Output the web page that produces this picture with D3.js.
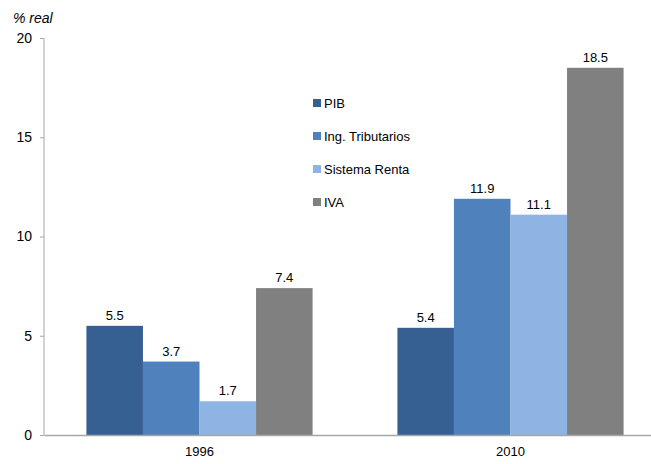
<!DOCTYPE html>
<html><head><meta charset="utf-8">
<script src="https://cdn.jsdelivr.net/npm/d3@7"></script>
<style>body{margin:0;background:#fff}svg{display:block;font-family:"Liberation Sans",Arial,sans-serif}</style>
</head><body><svg id="c" width="651" height="464"></svg>
<script>
const categories = ["1996", "2010"];
const seriesNames = ["PIB", "Ing. Tributarios", "Sistema Renta", "IVA"];
const pib = [5.5, 5.4];
const ingTrib = [3.7, 11.9];
const sistemaRenta = [1.7, 11.1];
const iva = [7.4, 18.5];
const yTicks = [0, 5, 10, 15, 20];
const colors = ["#376092", "#4f81bd", "#8eb4e3", "#808080"];
const values = [pib, ingTrib, sistemaRenta, iva];

const svg = d3.select("#c");
const x0 = d3.scaleBand().domain(categories).range([44, 666]).paddingInner(0).paddingOuter(0);
const x1 = d3.scaleBand().domain(seriesNames).range([0, x0.bandwidth()]).paddingInner(0).paddingOuter(0.75);
const y = d3.scaleLinear().domain([0, 20]).range([435, 38]);

// bars
categories.forEach((c, ci) => {
  seriesNames.forEach((s, si) => {
    const v = values[si][ci];
    svg.append("rect")
      .attr("x", x0(c) + x1(s)).attr("y", y(v))
      .attr("width", x1.bandwidth()).attr("height", y(0) - y(v))
      .attr("fill", colors[si]);
    svg.append("text")
      .attr("x", x0(c) + x1(s) + x1.bandwidth() / 2).attr("y", y(v) - 6)
      .attr("text-anchor", "middle").attr("font-size", 13).attr("fill", "#000")
      .text(v.toFixed(1));
  });
});

// y axis
const yAxis = d3.axisLeft(y).tickValues(yTicks).tickSize(4).tickPadding(8);
const gy = svg.append("g").attr("transform", "translate(44,0)").call(yAxis);
gy.attr("font-family", null);
gy.select(".domain").attr("stroke", "#a6a6a6").attr("d", "M-4,38.5H0V435.5");
gy.selectAll(".tick line").attr("stroke", "#a6a6a6");
gy.selectAll(".tick text").attr("font-size", 14).attr("fill", "#000");

// x axis
const xAxis = d3.axisBottom(x0).tickSize(0).tickPadding(12);
const gx = svg.append("g").attr("transform", "translate(0,435)").call(xAxis);
gx.attr("font-family", null);
gx.select(".domain").attr("stroke", "#a6a6a6").attr("stroke-width", 1.5);
gx.selectAll(".tick text").attr("font-size", 13).attr("fill", "#000");

// y label
svg.append("text").attr("x", 13).attr("y", 23).attr("font-size", 14).attr("font-style", "italic").text("% real");

// legend
seriesNames.forEach((s, i) => {
  const ly = 103 + i * 33;
  svg.append("rect").attr("x", 313).attr("y", ly - 4).attr("width", 8).attr("height", 8).attr("fill", colors[i]);
  svg.append("text").attr("x", 324).attr("y", ly + 5).attr("font-size", 13).attr("fill", "#000").text(s);
});
</script></body></html>
